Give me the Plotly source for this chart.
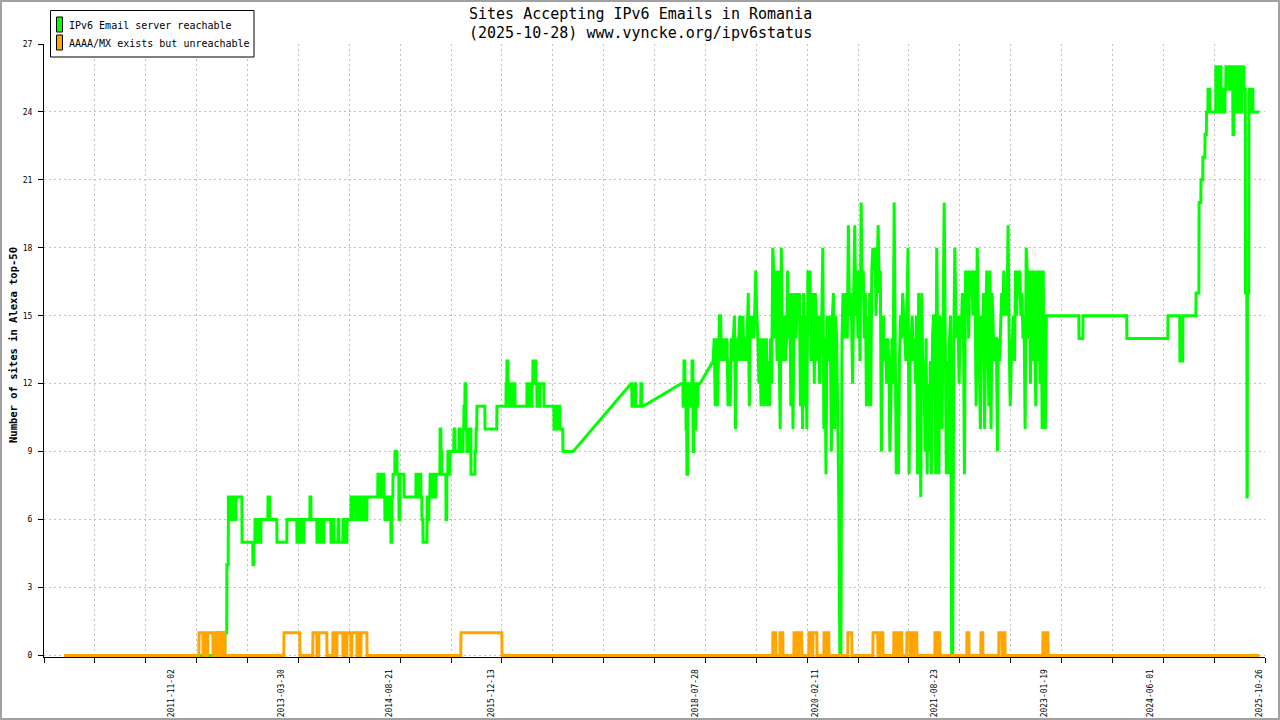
import pandas as pd
import plotly.graph_objects as go

# ---------------- data ----------------
START_DATE = "2010-06-14"          # first sample of both series

# Green series "IPv6 Email server reachable": run-length encoded (value, days);
# None = no data (line is drawn straight across the gap)
green_a_runs = [
    (0, 714), (1, 7), (0, 7), (1, 7), (0, 7), (1, 7), (0, 7), (1, 9), (4, 7), (7, 8),
    (6, 4), (7, 5), (6, 5), (7, 9), (6, 5), (7, 28), (5, 51), (4, 5), (5, 5), (6, 5),
    (5, 4), (6, 5), (5, 5), (6, 4), (5, 5), (6, 33), (7, 9), (6, 33), (5, 47), (6, 47),
    (5, 5), (6, 4), (5, 5), (6, 5), (5, 5), (6, 4), (5, 5), (6, 28), (7, 5), (6, 28),
    (5, 5), (6, 4), (5, 5), (6, 9), (5, 10), (6, 33), (5, 9), (6, 5), (5, 19), (6, 4),
    (5, 19), (6, 5), (5, 14), (6, 19), (7, 4), (6, 5), (7, 14), (6, 5), (7, 9), (6, 5),
    (7, 5), (6, 14), (7, 9), (6, 5), (7, 51), (8, 5), (7, 5), (8, 5), (7, 9), (8, 5),
    (7, 4), (6, 5), (7, 5), (6, 4), (7, 5), (6, 5), (7, 4), (5, 5), (7, 5), (8, 9),
    (9, 10), (8, 9), (6, 5), (8, 19), (7, 56), (8, 5), (7, 4), (8, 5), (7, 5), (8, 4),
    (7, 5), (6, 5), (5, 19), (7, 4), (6, 5), (7, 5), (8, 4), (7, 5), (8, 5), (7, 4),
    (8, 5), (7, 5), (8, 19), (10, 4), (9, 5), (8, 19), (6, 4), (8, 5), (9, 5), (8, 5),
    (9, 18), (10, 5), (9, 19), (10, 5), (9, 14), (10, 4), (11, 5), (12, 5), (10, 4), (9, 5),
    (10, 5), (9, 4), (10, 5), (8, 19), (9, 5), (10, 4), (11, 38), (10, 56), (11, 43), (12, 4),
    (13, 5), (12, 5), (11, 4), (12, 5), (11, 5), (12, 4), (11, 5), (12, 5), (11, 56), (12, 5),
    (11, 4), (12, 10), (11, 5), (12, 4), (13, 5), (12, 5), (13, 4), (12, 5), (11, 5), (12, 4),
    (11, 5), (12, 19), (11, 47), (10, 5), (11, 4), (10, 5), (11, 5), (10, 4), (11, 5), (10, 14),
    (9, 48), (None, 271), (12, 5), (11, 14), (12, 5), (11, 23), (12, 5), (11, 6), (None, 177), (12, 10),
    (11, 4), (13, 5), (12, 5), (10, 4), (8, 5), (12, 5), (11, 4), (12, 5), (11, 5), (13, 5),
    (9, 4), (12, 5), (10, 5), (12, 4), (11, 5), (12, 10), (None, 61),
]

# Green series, busy period: one sample every GREEN_B_STEP days
GREEN_B_STEP = 5
green_b_vals = [
    13, 14, 11, 14, 11, 14, 15, 15, 13,
    14, 13, 14, 13, 14, 11, 13, 11, 14, 13,
    14, 15, 10, 14, 13, 14, 15, 13, 14,
    15, 13, 14, 13, 14, 16, 11, 15, 14,
    15, 14, 15, 17, 15, 14, 12, 14, 11, 13,
    14, 11, 13, 14, 11, 13, 11, 14, 12,
    18, 17, 14, 17, 13, 17, 12, 10, 18,
    14, 13, 15, 13, 14, 17, 14, 16, 11, 16,
    10, 15, 16, 14, 16, 15, 16, 11, 15,
    10, 16, 11, 15, 10, 17, 15, 17, 13,
    15, 16, 12, 16, 15, 13, 15, 12, 14, 15,
    18, 10, 14, 8, 15, 14, 13, 15, 9,
    15, 16, 10, 15, 14, 10, 7, 0, 0, 14,
    16, 14, 15, 16, 14, 19, 15, 16, 15,
    12, 16, 19, 15, 17, 14, 17, 13, 20,
    16, 17, 14, 16, 11, 15, 11, 16, 11, 17,
    18, 17, 18, 15, 17, 19, 16, 17, 9,
    14, 15, 13, 14, 12, 14, 13, 9, 12,
    14, 12, 20, 14, 8, 12, 8, 13, 15, 14,
    16, 15, 14, 13, 15, 18, 8, 13, 14,
    15, 13, 14, 12, 15, 8, 16, 13, 7,
    16, 12, 13, 9, 14, 8, 12, 9, 13, 8,
    14, 15, 15, 8, 18, 14, 8, 15, 13,
    10, 15, 20, 14, 8, 13, 8, 14, 15,
    0, 0, 14, 18, 15, 14, 15, 12, 15, 14,
    16, 15, 8, 17, 15, 17, 14, 17, 16,
    17, 15, 17, 16, 11, 18, 15, 14, 10,
    15, 14, 16, 10, 15, 17, 14, 11, 17, 10,
    16, 14, 13, 14, 14, 9, 14, 13, 15,
    16, 15, 17, 15, 16, 15, 19, 14, 11,
    13, 14, 15, 13, 17, 15, 17, 16, 17, 15,
    16, 14, 15, 10, 18, 17, 14, 17, 12,
    17, 13, 17, 14, 11, 17, 13, 17, 12, 17,
    10, 17, 11, 10, 15,
]

# Green series, recent period: run-length encoded (value, days)
green_c_runs = [
    (15, 148), (14, 19), (15, 206), (14, 193), (15, 56), (13, 14), (15, 62), (16, 14), (20, 9), (21, 9),
    (22, 10), (23, 7), (24, 7), (25, 9), (24, 28), (26, 5), (25, 5), (26, 4), (24, 5), (26, 5),
    (25, 5), (24, 4), (25, 5), (24, 5), (25, 4), (26, 14), (25, 5), (26, 9), (25, 5), (23, 5),
    (26, 9), (25, 5), (24, 5), (26, 4), (25, 5), (26, 5), (24, 4), (26, 10), (25, 7), (16, 7),
    (7, 2), (16, 7), (25, 5), (24, 5), (25, 9), (24, 31),
]

# Orange series "AAAA/MX exists but unreachable": run-length encoded (value, days)
orange_runs = [
    (0, 634), (1, 19), (0, 4), (1, 10), (0, 9), (1, 24), (0, 14), (1, 9), (0, 5), (1, 9),
    (0, 5), (1, 14), (0, 277), (1, 75), (0, 61), (1, 19), (0, 9), (1, 38), (0, 28), (1, 14),
    (0, 5), (1, 28), (0, 5), (1, 9), (0, 5), (1, 19), (0, 4), (1, 24), (0, 5), (1, 9),
    (0, 5), (1, 28), (0, 441), (1, 193), (0, 1272), (1, 14), (0, 19), (1, 14), (0, 52), (1, 14),
    (0, 9), (1, 14), (0, 33), (1, 14), (0, 5), (1, 19), (0, 33), (1, 9), (0, 5), (1, 9),
    (0, 89), (1, 19), (0, 99), (1, 23), (0, 10), (1, 14), (0, 51), (1, 14), (0, 10), (1, 14),
    (0, 23), (1, 15), (0, 4), (1, 10), (0, 4), (1, 14), (0, 85), (1, 9), (0, 5), (1, 9),
    (0, 127), (1, 10), (0, 56), (1, 9), (0, 75), (1, 15), (0, 4), (1, 10), (0, 178), (1, 9),
    (0, 5), (1, 10), (0, 993),
]

x_label_dates = ["2011-11-02", "2013-03-30", "2014-08-21", "2015-12-13", "2018-07-28",
                 "2020-02-11", "2021-08-23", "2023-01-19", "2024-06-01", "2025-10-26"]
y_ticks = [0, 3, 6, 9, 12, 15, 18, 21, 24, 27]

series_names = ["IPv6 Email server reachable", "AAAA/MX exists but unreachable"]
series_colors = ["#00ff00", "#ffa500"]
title_lines = ["Sites Accepting IPv6 Emails in Romania", "(2025-10-28) www.vyncke.org/ipv6status"]
y_title = "Number of sites in Alexa top-50"


# ---------------- build traces ----------------
def expand(runs, d0):
    xs, ys = [], []
    d = d0
    for v, n in runs:
        if v is not None:
            xs.append(d)
            ys.append(v)
            if n > 1:
                xs.append(d + n - 1)
                ys.append(v)
        d += n
    return xs, ys, d


gx, gy, d = expand(green_a_runs, 0)
for v in green_b_vals:
    gx.append(d)
    gy.append(v)
    d += GREEN_B_STEP
cx, cy, d = expand(green_c_runs, d)
gx += cx
gy += cy
ox, oy, _ = expand(orange_runs, 0)

t0 = pd.Timestamp(START_DATE)
g_dates = t0 + pd.to_timedelta(gx, unit="D")
o_dates = t0 + pd.to_timedelta(ox, unit="D")

FONT = "DejaVu Sans Mono"
W, H = 1280, 720
ML, MR, MT, MB = 44, 15, 44, 63
PW, PH = W - ML - MR, H - MT - MB


def xp(px):
    return (px - ML) / PW


def yp(py):
    return (H - MB - py) / PH


fig = go.Figure()
fig.add_trace(go.Scatter(x=g_dates, y=gy, mode="lines", name=series_names[0],
                         line=dict(color=series_colors[0], width=3), hoverinfo="skip"))
fig.add_trace(go.Scatter(x=o_dates, y=oy, mode="lines", name=series_names[1],
                         line=dict(color=series_colors[1], width=3), hoverinfo="skip"))

x_left = pd.Timestamp("2010-03-12")
x_right = pd.Timestamp("2025-11-21 10:00")
grid_ticks = [t.strftime("%Y-%m-%d %H:%M:%S") for t in pd.date_range(x_left, x_right, periods=25)]

GRID = "#c0c0c0"
fig.update_xaxes(
    type="date", range=[x_left, x_right], automargin=False,
    tickmode="array", tickvals=x_label_dates, ticktext=x_label_dates,
    tickangle=-90, tickfont=dict(family=FONT, size=8, color="black"),
    ticks="outside", ticklen=5, tickcolor="rgba(0,0,0,0)", ticklabelstandoff=3,
    showgrid=False, zeroline=False,
    showline=True, linecolor="black", linewidth=1,
    minor=dict(tickmode="array", tickvals=grid_ticks, ticks="outside", ticklen=5,
               tickcolor="black", tickwidth=1, showgrid=True, gridcolor=GRID,
               griddash="2px,3px", gridwidth=1),
)
fig.update_yaxes(
    range=[-0.07, 27], automargin=False, tickmode="array", tickvals=y_ticks,
    tickfont=dict(family=FONT, size=8, color="black"),
    ticks="outside", ticklen=5, tickcolor="black", ticklabelstandoff=4,
    showline=True, linecolor="black", linewidth=1,
    showgrid=True, gridcolor=GRID, griddash="2px,3px", gridwidth=1,
    zeroline=False,
)

shapes = [
    # outer frame
    dict(type="rect", xref="paper", yref="paper", x0=xp(1), x1=xp(1279), y0=yp(1), y1=yp(719),
         line=dict(color="#a0a0a0", width=2)),
    # legend box
    dict(type="rect", xref="paper", yref="paper", x0=xp(50.5), x1=xp(254), y0=yp(10.5), y1=yp(57),
         line=dict(color="black", width=1), fillcolor="white"),
    dict(type="rect", xref="paper", yref="paper", x0=xp(56.5), x1=xp(62.5), y0=yp(17), y1=yp(32),
         line=dict(color="black", width=1), fillcolor=series_colors[0]),
    dict(type="rect", xref="paper", yref="paper", x0=xp(56.5), x1=xp(62.5), y0=yp(35), y1=yp(50),
         line=dict(color="black", width=1), fillcolor=series_colors[1]),
]

annotations = [
    dict(text=title_lines[0], x=xp(640), y=yp(13.5), xref="paper", yref="paper",
         xanchor="center", yanchor="middle", showarrow=False,
         font=dict(family=FONT, size=15, color="black")),
    dict(text=title_lines[1], x=xp(640), y=yp(33), xref="paper", yref="paper",
         xanchor="center", yanchor="middle", showarrow=False,
         font=dict(family=FONT, size=15, color="black")),
    dict(text="<b>" + y_title + "</b>", x=xp(13), y=yp(345), xref="paper", yref="paper",
         xanchor="center", yanchor="middle", showarrow=False, textangle=-90,
         font=dict(family=FONT, size=10.5, color="black")),
    dict(text=series_names[0], x=xp(67), y=yp(25), xref="paper", yref="paper",
         xanchor="left", yanchor="middle", showarrow=False,
         font=dict(family=FONT, size=10, color="black")),
    dict(text=series_names[1], x=xp(67), y=yp(43), xref="paper", yref="paper",
         xanchor="left", yanchor="middle", showarrow=False,
         font=dict(family=FONT, size=10, color="black")),
]

fig.update_layout(
    width=W, height=H, autosize=False,
    margin=dict(l=ML, r=MR, t=MT, b=MB, pad=0, autoexpand=False),
    paper_bgcolor="white", plot_bgcolor="white",
    showlegend=False,
    shapes=shapes, annotations=annotations,
    font=dict(family=FONT, color="black"),
)

fig.write_html(
    "out.html",
    config={"displayModeBar": False, "responsive": False},
    post_script="document.body.style.margin='0';document.body.style.overflow='hidden';",
)
